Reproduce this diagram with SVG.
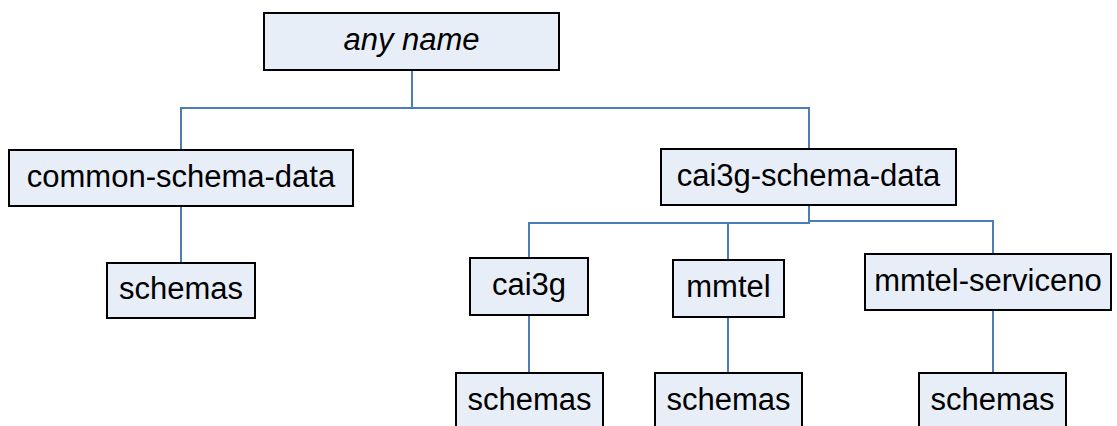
<svg xmlns="http://www.w3.org/2000/svg" width="1117" height="426" viewBox="0 0 1117 426">
<style>
.box{fill:#E8EEF8;stroke:#000;stroke-width:2}
.lbl{font-family:"Liberation Sans",Arial,sans-serif;font-size:31px;fill:#000;text-anchor:middle}
.it{font-style:italic}
.con{fill:none;stroke:#4A7EBB;stroke-width:2}
</style>
<rect width="1117" height="426" fill="#fff"/>
<g id="connectors">
<path class="con" d="M412 70V108H181V150"/>
<path class="con" d="M412 108H809V149"/>
<path class="con" d="M809 205V223H529V258"/>
<path class="con" d="M728 223V260"/>
<path class="con" d="M809 221H993V254"/>
<path class="con" d="M181 206V263"/>
<path class="con" d="M529 315V373"/>
<path class="con" d="M728 317V373"/>
<path class="con" d="M993 310V373"/>
</g>
<g id="root"><rect class="box" x="264" y="13" width="295" height="57"/><text class="lbl it" x="411.5" y="50">any name</text></g>
<g id="common-schema-data"><rect class="box" x="9" y="150" width="344" height="56"/><text class="lbl" x="181" y="187">common-schema-data</text></g>
<g id="common-schemas"><rect class="box" x="107" y="263" width="148" height="55"/><text class="lbl" x="181" y="299">schemas</text></g>
<g id="cai3g-schema-data"><rect class="box" x="661" y="149" width="295" height="56"/><text class="lbl" x="808.5" y="186">cai3g-schema-data</text></g>
<g id="cai3g"><rect class="box" x="470" y="258" width="118" height="57"/><text class="lbl" x="529" y="295">cai3g</text></g>
<g id="mmtel"><rect class="box" x="673" y="260" width="111" height="57"/><text class="lbl" x="728.5" y="297">mmtel</text></g>
<g id="mmtel-serviceno"><rect class="box" x="865" y="254" width="246" height="56"/><text class="lbl" x="988" y="291">mmtel-serviceno</text></g>
<g id="cai3g-schemas"><rect class="box" x="456" y="373" width="147" height="57"/><text class="lbl" x="529.5" y="410">schemas</text></g>
<g id="mmtel-schemas"><rect class="box" x="655" y="373" width="147" height="57"/><text class="lbl" x="728.5" y="410">schemas</text></g>
<g id="serviceno-schemas"><rect class="box" x="919" y="373" width="147" height="57"/><text class="lbl" x="992.5" y="410">schemas</text></g>
</svg>
